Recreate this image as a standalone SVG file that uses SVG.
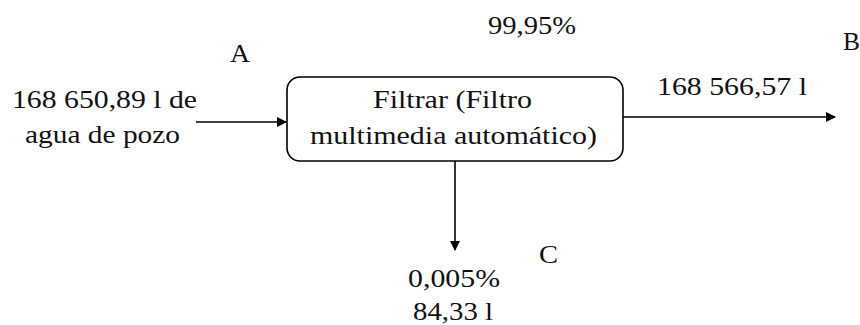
<svg xmlns="http://www.w3.org/2000/svg" width="860" height="325" viewBox="0 0 860 325">
<style>
text{font-family:'Liberation Serif','DejaVu Serif',serif;font-size:25px;fill:#111}
.ln{stroke:#000;stroke-width:1.6;fill:none}
</style>
<defs>
<marker id="ah" markerWidth="10" markerHeight="10" refX="9" refY="5" orient="auto" markerUnits="userSpaceOnUse">
<path d="M0,0 L10,5 L0,10 Z" fill="#000"/>
</marker>
</defs>
<rect width="860" height="325" fill="#fff"/>
<g id="connectors">
<line class="ln" x1="196" y1="122" x2="286" y2="122" marker-end="url(#ah)"/>
<line class="ln" x1="623" y1="117" x2="835" y2="117" marker-end="url(#ah)"/>
<line class="ln" x1="455" y1="161" x2="455" y2="250" marker-end="url(#ah)"/>
</g>
<g id="node-filtrar">
<rect x="287" y="77" width="336" height="84" rx="13" ry="13" fill="#fff" stroke="#000" stroke-width="1.6"/>
<text x="373" y="108" textLength="159" lengthAdjust="spacingAndGlyphs">Filtrar (Filtro</text>
<text x="310" y="144" textLength="287" lengthAdjust="spacingAndGlyphs">multimedia automático)</text>
</g>
<g id="input">
<text x="12" y="108" textLength="185" lengthAdjust="spacingAndGlyphs">168 650,89 l de</text>
<text x="25" y="143" textLength="155" lengthAdjust="spacingAndGlyphs">agua de pozo</text>
</g>
<g id="labels">
<text x="230" y="62" textLength="20" lengthAdjust="spacingAndGlyphs">A</text>
<text x="488" y="34" textLength="88" lengthAdjust="spacingAndGlyphs">99,95%</text>
<text x="843" y="50" textLength="17" lengthAdjust="spacingAndGlyphs">B</text>
<text x="657" y="95" textLength="150" lengthAdjust="spacingAndGlyphs">168 566,57 l</text>
<text x="539" y="263" textLength="19" lengthAdjust="spacingAndGlyphs">C</text>
<text x="408" y="287" textLength="92" lengthAdjust="spacingAndGlyphs">0,005%</text>
<text x="413" y="320" textLength="80" lengthAdjust="spacingAndGlyphs">84,33 l</text>
</g>
</svg>
